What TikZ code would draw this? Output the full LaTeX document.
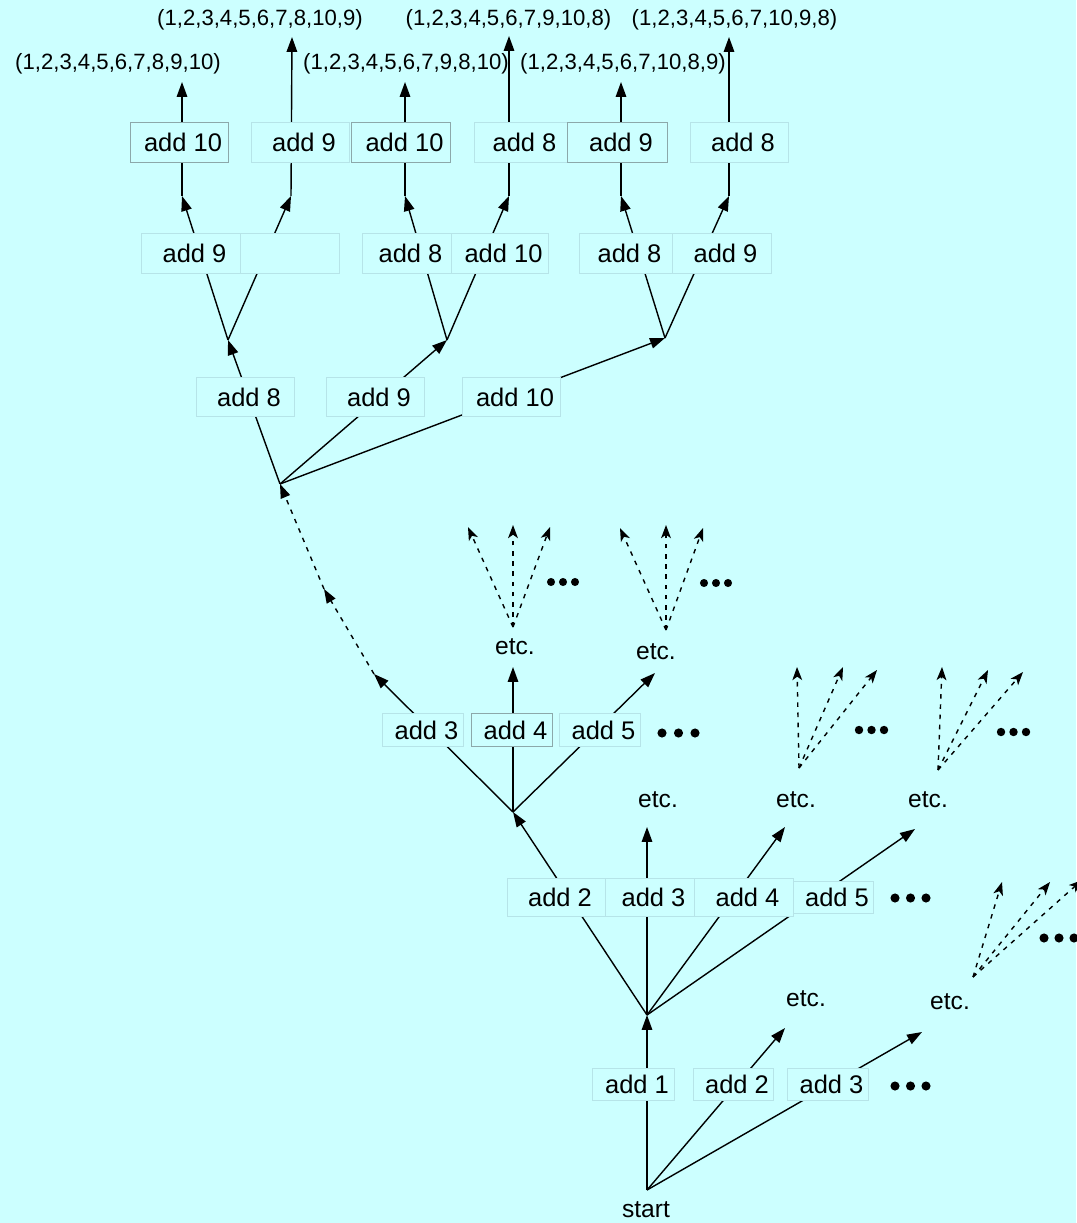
\documentclass[tikz,border=0pt]{standalone}
\usepackage{fontspec}
\setmainfont{Liberation Sans}
\usetikzlibrary{arrows.meta}

\definecolor{bgcyan}{RGB}{204,255,255}
\definecolor{paleedge}{RGB}{182,228,232}
\definecolor{darkedge}{RGB}{140,168,170}

% three filled dots: first centre x, y, spacing, radius
\newcommand{\threedots}[4]{%
  \foreach \k in {0,1,2} \fill (#1+\k*#3,#2) circle[radius=#4];}

\tikzset{
  op/.style={draw=paleedge, fill=bgcyan, line width=0.55pt, inner sep=0pt,
             font=\fontsize{14.5pt}{16pt}\selectfont,
             execute at begin node={\hspace*{0.16cm}}},
  opdark/.style={op, draw=darkedge},
  wh/.style 2 args={minimum width=#1*0.02cm, minimum height=#2*0.02cm},
  word/.style={inner sep=0pt, font=\fontsize{14pt}{16pt}\selectfont},
  tuple/.style={inner sep=0pt, font=\fontsize{12.6pt}{14pt}\selectfont},
  link/.style={line width=0.8pt, -{Triangle[length=8.5pt,width=6pt]}},
  dlink/.style={line width=0.8pt, dash pattern=on 2.6pt off 3.2pt,
                -{Triangle[length=8pt,width=5.6pt]}},
  flink/.style={line width=0.8pt, dash pattern=on 2.6pt off 3.2pt,
                -{Stealth[length=7.5pt,width=5.6pt,inset=2pt]}},
}

\begin{document}
\begin{tikzpicture}[x=0.02cm, y=-0.02cm]
\fill[bgcyan] (0,0) rectangle (1076,1223);
\useasboundingbox (0,0) rectangle (1076,1223);

% junctions and arrow ends
\coordinate (S0) at (647,1190);
\coordinate (J1) at (647,1015);
\coordinate (A1) at (785,1028);
\coordinate (A2) at (922,1032);
\coordinate (J2) at (513,812);
\coordinate (B1) at (647,827);
\coordinate (B2) at (785,827);
\coordinate (B3) at (915,829);
\coordinate (C1) at (374,674);
\coordinate (C2) at (513,667);
\coordinate (C3) at (655,673);
\coordinate (D1) at (324,589);
\coordinate (J3) at (280,484);
\coordinate (J4) at (228,340);
\coordinate (J5) at (447,340);
\coordinate (J6) at (665,338);
\coordinate (K1) at (182,196);
\coordinate (K2) at (291,196);
\coordinate (K3) at (405,196);
\coordinate (K4) at (509,196);
\coordinate (K5) at (621,196);
\coordinate (K6) at (729,196);
\coordinate (T1) at (182,82);
\coordinate (T2) at (292,37);
\coordinate (T3) at (405,82);
\coordinate (T4) at (509,36);
\coordinate (T5) at (621,82);
\coordinate (T6) at (729,37);

% dashed fans: origin and three tips each
\coordinate (F1) at (513,627);
\coordinate (F1a) at (468,527);
\coordinate (F1b) at (513,525);
\coordinate (F1c) at (550,527);
\coordinate (F2) at (666,630);
\coordinate (F2a) at (620,528);
\coordinate (F2b) at (666,525);
\coordinate (F2c) at (703,528);
\coordinate (F3) at (799,768);
\coordinate (F3a) at (797,667);
\coordinate (F3b) at (843,667);
\coordinate (F3c) at (877,670);
\coordinate (F4) at (938,770);
\coordinate (F4a) at (942,667);
\coordinate (F4b) at (988,670);
\coordinate (F4c) at (1023,672);
\coordinate (F5) at (973,977);
\coordinate (F5a) at (1002,882);
\coordinate (F5b) at (1050,882);
\coordinate (F5c) at (1082,880);

% solid branches
\draw[link] (S0) -- (J1);
\draw[link] (S0) -- (A1);
\draw[link] (S0) -- (A2);
\draw[link] (J1) -- (J2);
\draw[link] (J1) -- (B1);
\draw[link] (J1) -- (B2);
\draw[link] (J1) -- (B3);
\draw[link] (J2) -- (C1);
\draw[link] (J2) -- (C2);
\draw[link] (J2) -- (C3);
\draw[dlink] (C1) -- (D1);
\draw[dlink] (D1) -- (J3);
\draw[link] (J3) -- (J4);
\draw[link] (J3) -- (J5);
\draw[link] (J3) -- (J6);
\draw[link] (J4) -- (K1);
\draw[link] (J4) -- (K2);
\draw[link] (J5) -- (K3);
\draw[link] (J5) -- (K4);
\draw[link] (J6) -- (K5);
\draw[link] (J6) -- (K6);
\draw[link] (K1) -- (T1);
\draw[link] (K2) -- (T2);
\draw[link] (K3) -- (T3);
\draw[link] (K4) -- (T4);
\draw[link] (K5) -- (T5);
\draw[link] (K6) -- (T6);

% dashed fans
\foreach \f in {F1,F2,F3,F4,F5}
  \foreach \t in {a,b,c}
    \draw[flink] (\f) -- (\f\t);

% operation boxes, top row
\node[opdark, wh={98}{40}] (t1) at (179,142) {add 10};
\node[op,     wh={98}{40}] (t2) at (300,142) {add 9};
\node[opdark, wh={99}{40}] (t3) at (400.5,142) {add 10};
\node[op,     wh={93}{40}] (t4) at (520.5,142) {add 8};
\node[opdark, wh={100}{40}] (t5) at (617,142) {add 9};
\node[op,     wh={98}{40}] (t6) at (739,142) {add 8};

% second row
\node[op, wh={99}{40}] (m1) at (190.5,253) {add 9};
\node[op, wh={99}{40}] (m2) at (289.5,253) {};
\node[op, wh={89}{40}] (m3) at (406.5,253) {add 8};
\node[op, wh={97}{40}] (m4) at (499.5,253) {add 10};
\node[op, wh={93}{40}] (m5) at (625.5,253) {add 8};
\node[op, wh={99}{40}] (m6) at (721.5,253) {add 9};

% third row
\node[op, wh={98}{39}] (l1) at (245,397) {add 8};
\node[op, wh={98}{39}] (l2) at (375,397) {add 9};
\node[op, wh={98}{39}] (l3) at (511,397) {add 10};

% fourth row
\node[op,     wh={81}{33}] (r1) at (422.5,730) {add 3};
\node[opdark, wh={81}{33}] (r2) at (511.5,730) {add 4};
\node[op,     wh={81}{33}] (r3) at (599.5,730) {add 5};

% fifth row
\node[op, wh={98}{38}] (s1) at (556,897) {add 2};
\node[op, wh={89}{38}] (s2) at (649.5,897) {add 3};
\node[op, wh={99}{38}] (s3) at (743.5,897) {add 4};
\node[op, wh={80}{32}] (s4) at (833,897.5) {add 5};

% bottom row
\node[op, wh={82}{32}] (u1) at (633,1084) {add 1};
\node[op, wh={80}{32}] (u2) at (733,1084) {add 2};
\node[op, wh={81}{32}] (u3) at (827.5,1084) {add 3};

% plain words
\node[word] (start) at (646,1210) {start};
\node[word] (e1) at (806,999) {etc.};
\node[word] (e2) at (950,1002) {etc.};
\node[word] (e3) at (658,800) {etc.};
\node[word] (e4) at (796,800) {etc.};
\node[word] (e5) at (928,800) {etc.};
\node[word] (e6) at (515,647) {etc.};
\node[word] (e7) at (656,652) {etc.};

% resulting orders
\node[tuple] (p1) at (118,64) {(1,2,3,4,5,6,7,8,9,10)};
\node[tuple] (p2) at (260,20) {(1,2,3,4,5,6,7,8,10,9)};
\node[tuple] (p3) at (406,64) {(1,2,3,4,5,6,7,9,8,10)};
\node[tuple] (p4) at (508.5,20) {(1,2,3,4,5,6,7,9,10,8)};
\node[tuple] (p5) at (623,64) {(1,2,3,4,5,6,7,10,8,9)};
\node[tuple] (p6) at (734.5,20) {(1,2,3,4,5,6,7,10,9,8)};

% ellipsis dots
\threedots{895}{1086}{15.5}{2.6pt}
\threedots{895}{898}{15.5}{2.6pt}
\threedots{662}{733}{16.5}{2.6pt}
\threedots{551}{582}{12}{2.3pt}
\threedots{704}{583}{12}{2.3pt}
\threedots{859}{730}{12.5}{2.4pt}
\threedots{1001}{732}{12.5}{2.4pt}
\threedots{1044}{938}{15}{2.6pt}
\end{tikzpicture}
\end{document}
